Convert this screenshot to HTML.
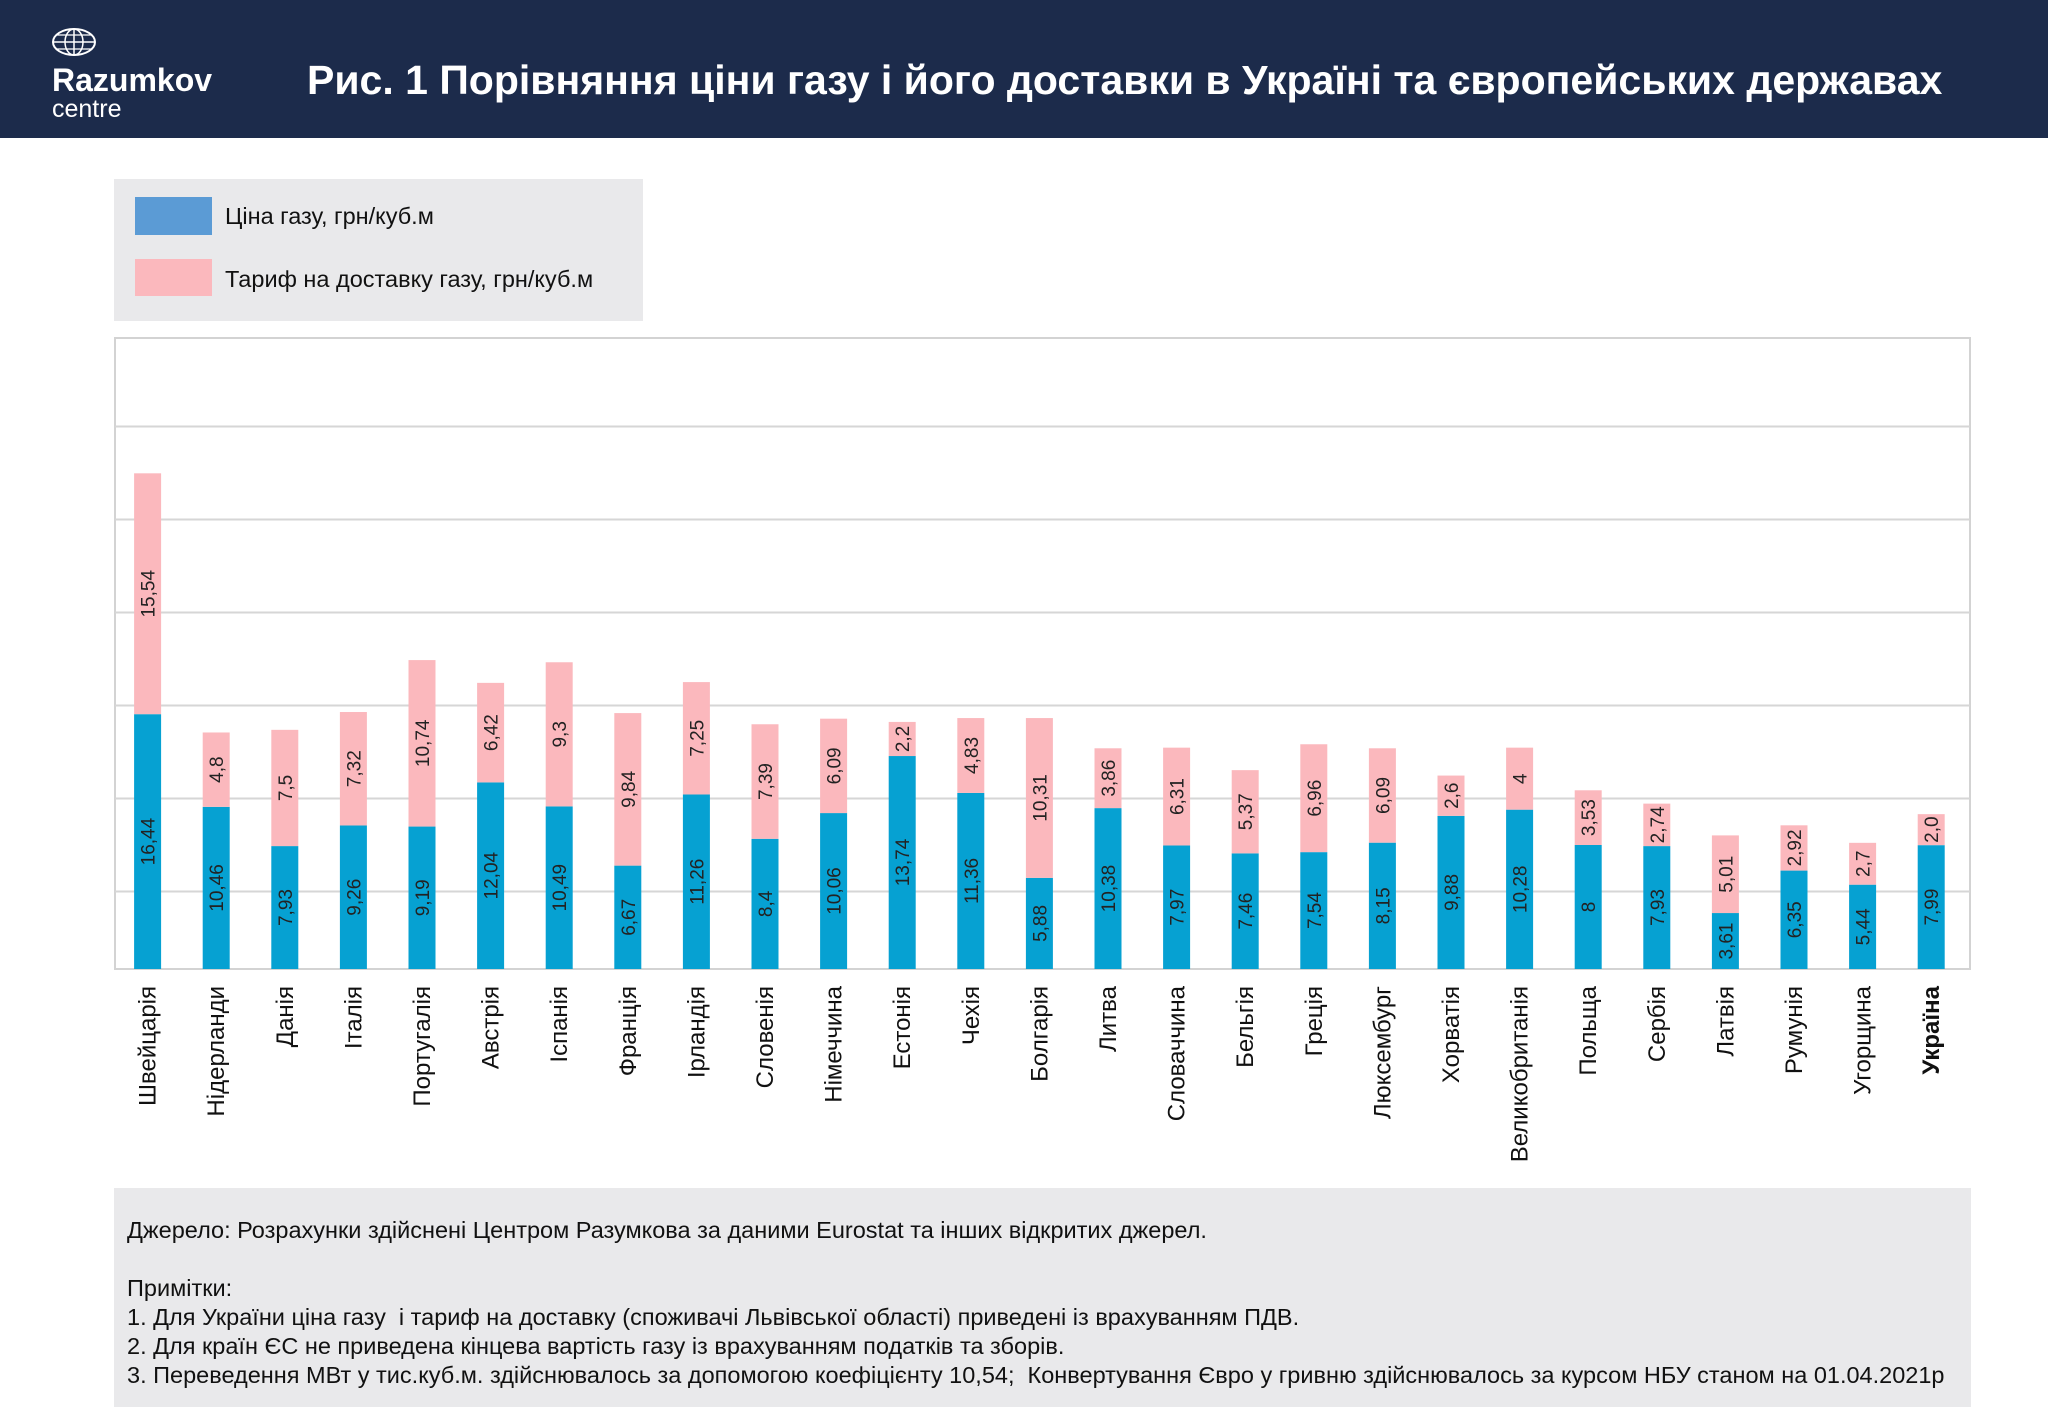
<!DOCTYPE html>
<html><head><meta charset="utf-8">
<style>
body{margin:0;width:2048px;height:1407px;background:#fff;font-family:"Liberation Sans","DejaVu Sans",sans-serif;position:relative;overflow:hidden}
#hdr{position:absolute;left:0;top:0;width:2048px;height:138px;background:#1c2b4b}
.abs{position:absolute}
</style></head><body>
<div id="hdr">
  <svg class="abs" style="left:51px;top:27px" width="46" height="30">
    <ellipse cx="23" cy="15" rx="21" ry="13" fill="none" stroke="#fff" stroke-width="2"/>
    <ellipse cx="23" cy="15" rx="9" ry="13" fill="none" stroke="#fff" stroke-width="1.5"/>
    <line x1="2" y1="15" x2="44" y2="15" stroke="#fff" stroke-width="1.5"/>
    <line x1="5" y1="8" x2="41" y2="8" stroke="#fff" stroke-width="1.2"/>
    <line x1="5" y1="22" x2="41" y2="22" stroke="#fff" stroke-width="1.2"/>
    <line x1="23" y1="2" x2="23" y2="28" stroke="#fff" stroke-width="1.5"/>
  </svg>
  <div class="abs" style="left:52px;top:62px;color:#fff;font-weight:bold;font-size:32px">Razumkov</div>
  <div class="abs" style="left:52px;top:95px;color:#fff;font-size:25px">centre</div>
  <div class="abs" style="left:307px;top:57px;color:#fff;font-weight:bold;font-size:41px;white-space:nowrap">Рис. 1 Порівняння ціни газу і його доставки в Україні та європейських державах</div>
</div>
<div class="abs" style="left:114px;top:179px;width:529px;height:142px;background:#e9e9eb">
  <div class="abs" style="left:21px;top:18px;width:77px;height:38px;background:#5b9bd5"></div>
  <div class="abs" style="left:111px;top:24px;font-size:23.5px;color:#111">Ціна газу, грн/куб.м</div>
  <div class="abs" style="left:21px;top:80px;width:77px;height:37px;background:#fbb8bd"></div>
  <div class="abs" style="left:111px;top:87px;font-size:23.5px;color:#111">Тариф на доставку газу, грн/куб.м</div>
</div>
<svg id="chart" class="abs" style="left:0;top:0" width="2048" height="1190"></svg>
<div class="abs" style="left:114px;top:1188px;width:1857px;height:219px;background:#e9e9eb;font-size:23.5px;color:#111;line-height:29px">
  <div class="abs" style="left:13px;top:28px;white-space:nowrap">Джерело: Розрахунки здійснені Центром Разумкова за даними Eurostat та інших відкритих джерел.</div>
  <div class="abs" style="left:13px;top:86px;white-space:nowrap">Примітки:<br>1. Для України ціна газу&nbsp; і тариф на доставку (споживачі Львівської області) приведені із врахуванням ПДВ.<br>2. Для країн ЄС не приведена кінцева вартість газу із врахуванням податків та зборів.<br>3. Переведення МВт у тис.куб.м. здійснювалось за допомогою коефіцієнту 10,54;&nbsp; Конвертування Євро у гривню здійснювалось за курсом НБУ станом на 01.04.2021р</div>
</div>
<script>
const categories=["Швейцарія","Нідерланди","Данія","Італія","Португалія","Австрія","Іспанія","Франція","Ірландія","Словенія","Німеччина","Естонія","Чехія","Болгарія","Литва","Словаччина","Бельгія","Греція","Люксембург","Хорватія","Великобританія","Польща","Сербія","Латвія","Румунія","Угорщина","Україна"];
const priceValues=[16.44,10.46,7.93,9.26,9.19,12.04,10.49,6.67,11.26,8.4,10.06,13.74,11.36,5.88,10.38,7.97,7.46,7.54,8.15,9.88,10.28,8,7.93,3.61,6.35,5.44,7.99];
const tariffValues=[15.54,4.8,7.5,7.32,10.74,6.42,9.3,9.84,7.25,7.39,6.09,2.2,4.83,10.31,3.86,6.31,5.37,6.96,6.09,2.6,4,3.53,2.74,5.01,2.92,2.7,2.0];
const priceLabels=["16,44","10,46","7,93","9,26","9,19","12,04","10,49","6,67","11,26","8,4","10,06","13,74","11,36","5,88","10,38","7,97","7,46","7,54","8,15","9,88","10,28","8","7,93","3,61","6,35","5,44","7,99"];
const tariffLabels=["15,54","4,8","7,5","7,32","10,74","6,42","9,3","9,84","7,25","7,39","6,09","2,2","4,83","10,31","3,86","6,31","5,37","6,96","6,09","2,6","4","3,53","2,74","5,01","2,92","2,7","2,0"];
const gridValues=[5,11,17,23,29,35];

const svg=document.getElementById('chart');
const NS='http://www.w3.org/2000/svg';
const L=115,R=1970,T=338,B=969,pxPerUnit=15.5,step=68.6,firstX=147.6,barW=27;
const y=v=>B-v*pxPerUnit;
const x=i=>firstX+i*step;
function mk(tag,attrs){const e=document.createElementNS(NS,tag);for(const k in attrs)e.setAttribute(k,attrs[k]);svg.appendChild(e);return e;}

const frame=mk('rect',{x:L,y:T,width:R-L,height:B-T,fill:'#fff',stroke:'#d3d3d3','stroke-width':2});


gridValues.forEach(g=>{
  const gl=mk('line',{x1:L,x2:R,y1:y(g),y2:y(g),stroke:'#d6d6d6','stroke-width':2});
  
  
});
categories.forEach((c,i)=>{
  const cx=x(i);
  const yb=y(priceValues[i]), yt=y(priceValues[i]+tariffValues[i]);
  const rb=mk('rect',{x:cx-barW/2,y:yb,width:barW,height:B-yb,fill:'#06a1d2'});
  
  
  const rt=mk('rect',{x:cx-barW/2,y:yt,width:barW,height:yb-yt,fill:'#fbb8bd'});
  
  
  const pl=mk('text',{x:0,y:0,transform:`translate(${cx+7},${(yb+B)/2}) rotate(-90)`,'text-anchor':'middle','font-size':19,fill:'#222'});
  pl.textContent=priceLabels[i];
  
  
  const tl=mk('text',{x:0,y:0,transform:`translate(${cx+7},${(yb+yt)/2}) rotate(-90)`,'text-anchor':'middle','font-size':19,fill:'#222'});
  tl.textContent=tariffLabels[i];
  
  
  const isUA=i===categories.length-1;
  const cl=mk('text',{x:0,y:0,transform:`translate(${cx+8},986) rotate(-90)`,'text-anchor':'end','font-size':24,fill:'#111','font-weight':isUA?'bold':'normal'});
  cl.textContent=c;
  
  
});
</script>
</body></html>
